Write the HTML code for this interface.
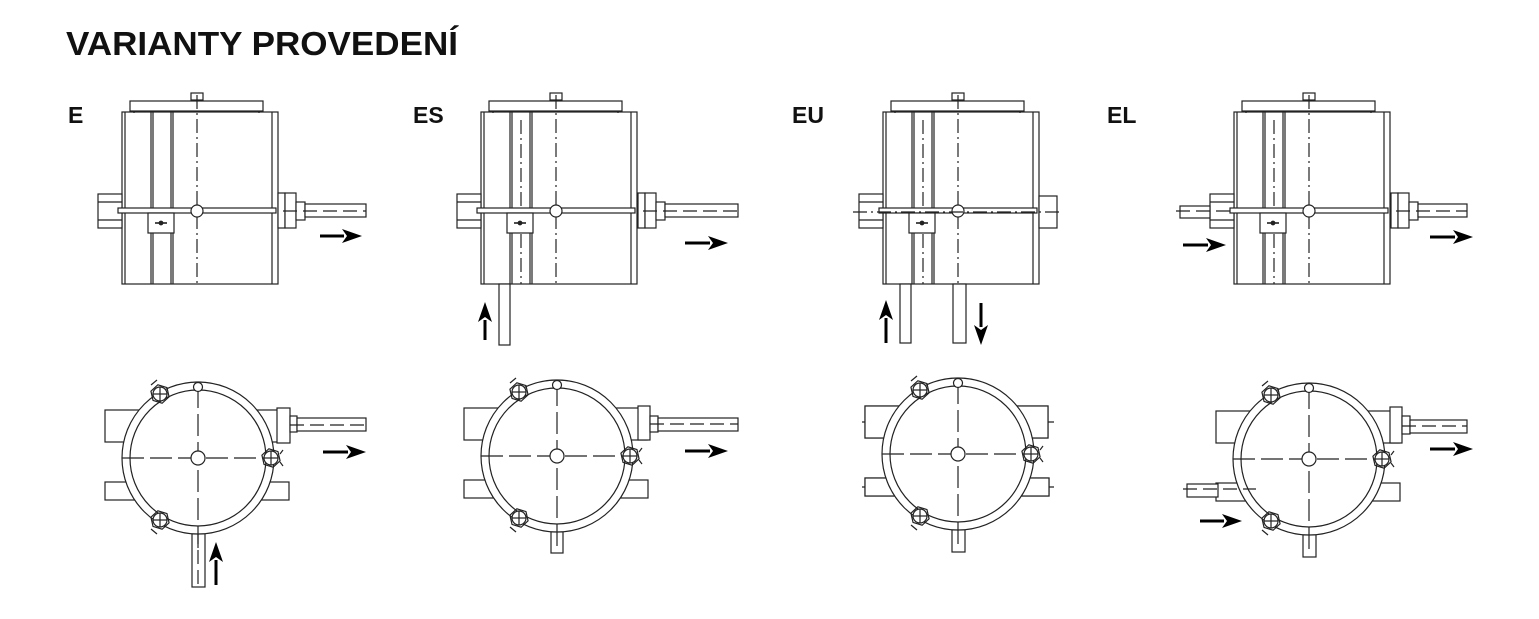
<!DOCTYPE html>
<html><head><meta charset="utf-8"><style>
html,body{margin:0;padding:0;background:#fff;}
svg{display:block;}
text{font-family:"Liberation Sans",Arial,sans-serif;font-weight:bold;fill:#111;}
</style></head><body>
<svg width="1539" height="619" viewBox="0 0 1539 619" xmlns="http://www.w3.org/2000/svg" xmlns:xlink="http://www.w3.org/1999/xlink">
<defs>
<g id="top">
<rect x="0" y="112" width="156" height="172" fill="#fff"/>
<line x1="3" y1="112" x2="3" y2="284"/><line x1="150" y1="112" x2="150" y2="284"/>
<rect x="8" y="101" width="133" height="10" fill="#fff"/>
<line x1="12" y1="111" x2="12" y2="113"/><line x1="137" y1="111" x2="137" y2="113"/>
<rect x="69" y="93" width="12" height="7" fill="#fff"/>
<line x1="73" y1="100" x2="73" y2="101"/><line x1="77" y1="100" x2="77" y2="101"/>
<line x1="29" y1="112" x2="29" y2="284"/><line x1="31" y1="112" x2="31" y2="284"/>
<line x1="49" y1="112" x2="49" y2="284"/><line x1="51" y1="112" x2="51" y2="284"/>
<line x1="75" y1="95" x2="75" y2="284" stroke-dasharray="14 4 2 4"/>
<rect x="-24" y="194" width="24" height="34" fill="#fff"/>
<line x1="-24" y1="202" x2="0" y2="202"/><line x1="-24" y1="220" x2="0" y2="220"/>
<rect x="-4" y="208" width="158" height="5" fill="#fff"/>
<circle cx="75" cy="211" r="6" fill="#fff"/>
<rect x="26" y="213" width="26" height="20" fill="#fff"/>
<line x1="33" y1="223" x2="45" y2="223" stroke-width="1.6"/>
<circle cx="39" cy="223" r="1.8" fill="#222"/>
</g>
<g id="cl">
<circle cx="0" cy="0" r="7" fill="#fff"/>
<line x1="-7" y1="0" x2="7" y2="0"/><line x1="0" y1="-7" x2="0" y2="7"/>
<polygon points="9.07,2.81 2.11,9.26 -6.96,6.46 -9.07,-2.81 -2.11,-9.26 6.96,-6.46"/>
</g>
<g id="circ">
<rect x="-93" y="-48" width="183" height="32" fill="#fff"/>
<rect x="-93" y="24" width="184" height="18" fill="#fff"/>
<circle cx="0" cy="0" r="76" fill="#fff"/>
<circle cx="0" cy="0" r="68"/>
<line x1="-76" y1="0" x2="76" y2="0" stroke-dasharray="22 6"/>
<line x1="0" y1="-72" x2="0" y2="95" stroke-dasharray="22 6"/>
<circle cx="0" cy="-71" r="4.5" fill="#fff"/>
<circle cx="0" cy="0" r="7" fill="#fff"/>
<use xlink:href="#cl" x="-38" y="-64"/>
<use xlink:href="#cl" x="73" y="0"/>
<use xlink:href="#cl" x="-38" y="62"/>
<line x1="-47" y1="-73" x2="-41" y2="-78"/>
<line x1="-47" y1="71" x2="-41" y2="76"/>
<line x1="82" y1="-4" x2="85" y2="-8"/><line x1="82" y1="4" x2="85" y2="8"/>
</g>
</defs>
<rect width="1539" height="619" fill="#fff"/>
<text x="66" y="55" font-size="33" textLength="392" lengthAdjust="spacingAndGlyphs">VARIANTY PROVEDENÍ</text>
<text x="68" y="123" font-size="23">E</text>
<text x="413" y="123" font-size="23">ES</text>
<text x="792" y="123" font-size="23">EU</text>
<text x="1107" y="123" font-size="23">EL</text>

<g fill="none" stroke="#222" stroke-width="1.2">
<use xlink:href="#top" x="122"/>
<use xlink:href="#top" x="481"/>
<use xlink:href="#top" x="883"/>
<use xlink:href="#top" x="1234"/>
<line x1="521" y1="120" x2="521" y2="207" stroke-dasharray="14 4 2 4"/><line x1="521" y1="234" x2="521" y2="284" stroke-dasharray="14 4 2 4"/>
<line x1="923" y1="120" x2="923" y2="207" stroke-dasharray="14 4 2 4"/><line x1="923" y1="234" x2="923" y2="284" stroke-dasharray="14 4 2 4"/>
<line x1="1274" y1="120" x2="1274" y2="207" stroke-dasharray="14 4 2 4"/><line x1="1274" y1="234" x2="1274" y2="284" stroke-dasharray="14 4 2 4"/>

<rect x="278" y="193" width="7" height="35" fill="#fff"/><rect x="285" y="193" width="11" height="35" fill="#fff"/>
<rect x="296" y="202" width="9" height="18" fill="#fff"/><rect x="305" y="204" width="61" height="13" fill="#fff"/>
<line x1="283" y1="211" x2="366" y2="211" stroke-dasharray="14 6"/>
<rect x="638" y="193" width="7" height="35" fill="#fff"/><rect x="645" y="193" width="11" height="35" fill="#fff"/>
<rect x="656" y="202" width="9" height="18" fill="#fff"/><rect x="665" y="204" width="73" height="13" fill="#fff"/>
<line x1="643" y1="211" x2="738" y2="211" stroke-dasharray="14 6"/>
<rect x="499" y="284" width="11" height="61" fill="#fff"/>
<rect x="1039" y="196" width="18" height="32" fill="#fff"/>
<line x1="853" y1="212" x2="1062" y2="212" stroke-dasharray="14 4 2 4"/>
<rect x="900" y="284" width="11" height="59" fill="#fff"/>
<rect x="953" y="284" width="13" height="59" fill="#fff"/>
<rect x="1391" y="193" width="7" height="35" fill="#fff"/><rect x="1398" y="193" width="11" height="35" fill="#fff"/>
<rect x="1409" y="202" width="9" height="18" fill="#fff"/><rect x="1418" y="204" width="49" height="13" fill="#fff"/>
<line x1="1396" y1="211" x2="1467" y2="211" stroke-dasharray="14 6"/>
<rect x="1180" y="206" width="30" height="12" fill="#fff"/>
<line x1="1176" y1="211" x2="1234" y2="211" stroke-dasharray="14 6"/>

<rect x="192" y="518" width="13" height="69" fill="#fff"/>
<line x1="198" y1="530" x2="198" y2="587" stroke-dasharray="14 6"/>
<use xlink:href="#circ" x="198" y="458"/>
<rect x="277" y="408" width="13" height="35" fill="#fff"/><rect x="290" y="416" width="7" height="16" fill="#fff"/>
<rect x="297" y="418" width="69" height="13" fill="#fff"/><line x1="290" y1="425" x2="366" y2="425" stroke-dasharray="14 6"/>

<rect x="551" y="516" width="12" height="37" fill="#fff"/>
<use xlink:href="#circ" x="557" y="456"/>
<rect x="638" y="406" width="12" height="34" fill="#fff"/><rect x="650" y="416" width="8" height="16" fill="#fff"/>
<rect x="658" y="418" width="80" height="13" fill="#fff"/><line x1="650" y1="424" x2="738" y2="424" stroke-dasharray="14 6"/>

<rect x="952" y="514" width="13" height="38" fill="#fff"/>
<rect x="865" y="406" width="183" height="32" fill="#fff"/>
<rect x="865" y="478" width="184" height="18" fill="#fff"/>
<line x1="862" y1="422" x2="1054" y2="422"/>
<line x1="862" y1="487" x2="1054" y2="487"/>
<use xlink:href="#circ" x="958" y="454"/>

<rect x="1303" y="519" width="13" height="38" fill="#fff"/>
<use xlink:href="#circ" x="1309" y="459"/>
<rect x="1390" y="407" width="12" height="36" fill="#fff"/><rect x="1402" y="416" width="8" height="18" fill="#fff"/>
<rect x="1410" y="420" width="57" height="13" fill="#fff"/><line x1="1402" y1="426" x2="1467" y2="426" stroke-dasharray="14 6"/>
<rect x="1187" y="484" width="31" height="13" fill="#fff"/>
<line x1="1183" y1="489" x2="1256" y2="489" stroke-dasharray="14 6"/>
</g>

<g stroke="#000" stroke-width="3">
<line x1="320" y1="236" x2="344" y2="236"/>
<line x1="685" y1="243" x2="710" y2="243"/>
<line x1="1183" y1="245" x2="1208" y2="245"/>
<line x1="1430" y1="237" x2="1455" y2="237"/>
<line x1="323" y1="452" x2="348" y2="452"/>
<line x1="685" y1="451" x2="710" y2="451"/>
<line x1="1200" y1="521" x2="1224" y2="521"/>
<line x1="1430" y1="449" x2="1455" y2="449"/>
<line x1="216" y1="585" x2="216" y2="560"/>
<line x1="485" y1="340" x2="485" y2="320"/>
<line x1="886" y1="343" x2="886" y2="318"/>
<line x1="981" y1="303" x2="981" y2="327"/>
</g>
<g fill="#000">
<polygon points="362,236 342,229 347,236 342,243"/>
<polygon points="728,243 708,236 713,243 708,250"/>
<polygon points="1226,245 1206,238 1211,245 1206,252"/>
<polygon points="1473,237 1453,230 1458,237 1453,244"/>
<polygon points="366,452 346,445 351,452 346,459"/>
<polygon points="728,451 708,444 713,451 708,458"/>
<polygon points="1242,521 1222,514 1227,521 1222,528"/>
<polygon points="1473,449 1453,442 1458,449 1453,456"/>
<polygon points="216,542 209,562 216,557 223,562"/>
<polygon points="485,302 478,322 485,317 492,322"/>
<polygon points="886,300 879,320 886,315 893,320"/>
<polygon points="981,345 974,325 981,330 988,325"/>
</g>
</svg>
</body></html>
